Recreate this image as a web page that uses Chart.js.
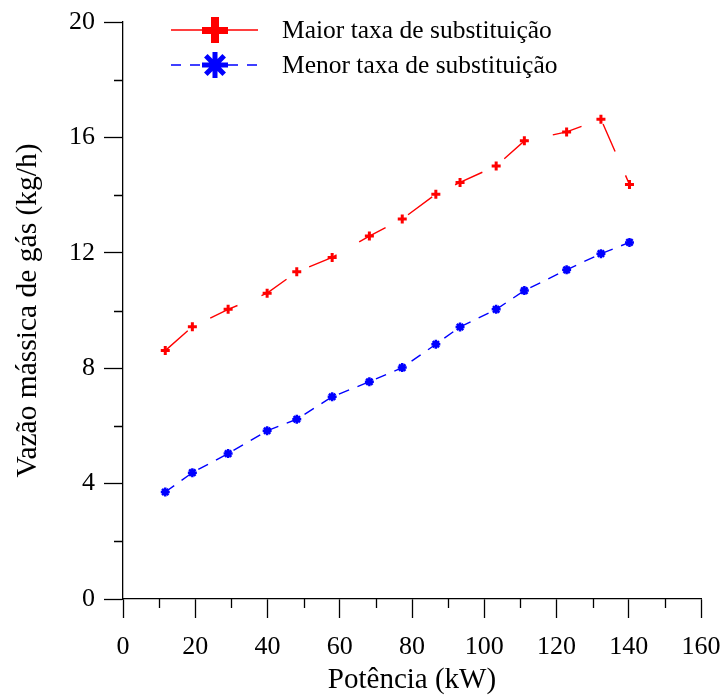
<!DOCTYPE html>
<html>
<head>
<meta charset="utf-8">
<script src="https://cdn.jsdelivr.net/npm/chart.js@4.4.1/dist/chart.umd.min.js"></script>
<style>
  html, body { margin: 0; padding: 0; background: #fff; }
  #wrap { width: 724px; height: 698px; }
</style>
</head>
<body>
<div id="wrap"><canvas id="grafico"></canvas></div>
<script>
// potência (kW) nos dois ensaios
const potencia = [11.7, 19.2, 29.1, 39.9, 48.1, 57.9, 68.2, 77.3, 86.6, 93.3, 103.3, 111.1, 122.8, 132.3, 140.2];
// vazão mássica de gás (kg/h)
const maiorTaxa = [8.61, 9.44, 10.04, 10.6, 11.34, 11.84, 12.58, 13.17, 14.03, 14.44, 15.01, 15.88, 16.19, 16.63, 14.37];
const menorTaxa = [3.71, 4.38, 5.04, 5.83, 6.23, 7.01, 7.53, 8.02, 8.83, 9.43, 10.04, 10.69, 11.41, 11.97, 12.36];
const nomesSeries = ['Maior taxa de substituição', 'Menor taxa de substituição'];
const xTicks = [0, 20, 40, 60, 80, 100, 120, 140, 160];
const yTicks = [0, 4, 8, 12, 16, 20];

const FONTE = 'Liberation Serif';

function pontos(ys) {
    return potencia.map((x, i) => ({ x: x, y: ys[i] }));
}

// ticks menores no meio dos maiores
const minorTicks = {
    id: 'minorTicks',
    afterDraw(chart) {
        const ctx = chart.ctx;
        const sx = chart.scales.x, sy = chart.scales.y;
        const area = chart.chartArea;
        ctx.save();
        ctx.strokeStyle = '#000';
        ctx.lineWidth = 1.3;
        ctx.beginPath();
        for (let i = 0; i < xTicks.length - 1; i++) {
            const px = Math.round(sx.getPixelForValue((xTicks[i] + xTicks[i + 1]) / 2)) + 0.5;
            ctx.moveTo(px, area.bottom);
            ctx.lineTo(px, area.bottom + 9);
        }
        for (let i = 0; i < yTicks.length - 1; i++) {
            const py = Math.round(sy.getPixelForValue((yTicks[i] + yTicks[i + 1]) / 2)) + 0.5;
            ctx.moveTo(area.left, py);
            ctx.lineTo(area.left - 9, py);
        }
        ctx.stroke();
        ctx.restore();
    }
};

// legenda no estilo do Origin: linha + símbolo grande
const legendaOrigin = {
    id: 'legendaOrigin',
    afterDraw(chart) {
        const ctx = chart.ctx;
        const x0 = 171, x1 = 258, xm = 215, xt = 282;
        const linhas = [30, 65];
        chart.data.datasets.forEach((ds, i) => {
            const y = linhas[i];
            ctx.save();
            ctx.strokeStyle = ds.borderColor;
            ctx.lineWidth = 1.5;
            if (i === 1) ctx.setLineDash([10, 9]);
            ctx.beginPath();
            ctx.moveTo(x0, y);
            ctx.lineTo(xm - 13, y);
            ctx.moveTo(xm + 13, y);
            ctx.lineTo(x1, y);
            ctx.stroke();
            ctx.setLineDash([]);
            ctx.fillStyle = ds.borderColor;
            if (i === 0) {
                ctx.fillRect(xm - 13, y - 3, 26, 7);
                ctx.fillRect(xm - 4, y - 13, 8, 26);
            } else {
                ctx.lineWidth = 5;
                ctx.beginPath();
                for (let k = 0; k < 4; k++) {
                    const a = k * Math.PI / 4;
                    ctx.moveTo(xm + 13 * Math.cos(a), y + 13 * Math.sin(a));
                    ctx.lineTo(xm - 13 * Math.cos(a), y - 13 * Math.sin(a));
                }
                ctx.stroke();
            }
            ctx.fillStyle = '#000';
            ctx.font = '25.5px "' + FONTE + '"';
            ctx.textBaseline = 'middle';
            ctx.textAlign = 'left';
            ctx.fillText(ds.label, xt, y + 1);
            ctx.restore();
        });
    }
};

new Chart(document.getElementById('grafico'), {
    type: 'line',
    data: {
        datasets: [
            {
                label: nomesSeries[0],
                data: pontos(maiorTaxa),
                borderColor: '#ff0000',
                backgroundColor: '#ff0000',
                borderWidth: 1.4,
                borderDash: [30, 26],
                pointStyle: 'cross',
                pointRadius: 4.5,
                pointBorderWidth: 3,
                tension: 0,
            },
            {
                label: nomesSeries[1],
                data: pontos(menorTaxa),
                borderColor: '#0000ff',
                backgroundColor: '#0000ff',
                borderWidth: 1.4,
                borderDash: [11, 9],
                pointStyle: 'star',
                pointRadius: 4.5,
                pointBorderWidth: 2.5,
                tension: 0,
            }
        ]
    },
    options: {
        responsive: true,
        maintainAspectRatio: false,
        animation: false,
        layout: { padding: { left: 0, top: 22, right: 23, bottom: 0 } },
        plugins: {
            legend: { display: false },
            tooltip: { enabled: false },
        },
        scales: {
            x: {
                type: 'linear',
                min: 0,
                max: 160,
                afterFit: (s) => { s.height = 99; s.paddingRight = 0; s.paddingLeft = 0; },
                border: { display: true, color: '#000', width: 1.3 },
                grid: { drawOnChartArea: false, drawTicks: true, tickLength: 19, color: '#000', tickWidth: 1.3 },
                ticks: {
                    stepSize: 20,
                    color: '#000',
                    padding: 14,
                    maxRotation: 0,
                    font: { family: FONTE, size: 26 },
                },
                title: {
                    display: true,
                    text: 'Potência (kW)',
                    color: '#000',
                    font: { family: FONTE, size: 29 },
                    padding: { top: 0, bottom: 0 },
                },
            },
            y: {
                type: 'linear',
                min: 0,
                max: 20,
                afterFit: (s) => { s.width = 123; s.paddingTop = 0; s.paddingBottom = 0; },
                border: { display: true, color: '#000', width: 1.3 },
                grid: { drawOnChartArea: false, drawTicks: true, tickLength: 19, color: '#000', tickWidth: 1.3 },
                ticks: {
                    stepSize: 4,
                    color: '#000',
                    padding: 9,
                    font: { family: FONTE, size: 26 },
                },
                title: {
                    display: true,
                    text: 'Vazão mássica de gás (kg/h)',
                    color: '#000',
                    font: { family: FONTE, size: 29.5 },
                    padding: { top: 11, bottom: 0 },
                },
            },
        },
    },
    plugins: [minorTicks, legendaOrigin],
});
</script>
</body>
</html>
